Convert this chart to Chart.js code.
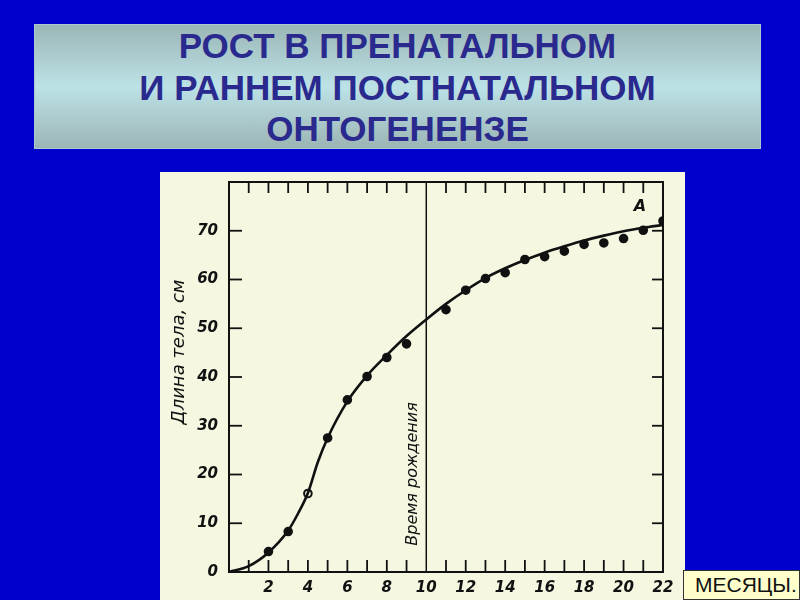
<!DOCTYPE html>
<html>
<head>
<meta charset="utf-8">
<script src="https://cdn.jsdelivr.net/npm/chart.js@4/dist/chart.umd.min.js"></script>
<style>
  html, body { margin:0; padding:0; }
  body { width:800px; height:600px; background:#0000cc; position:relative; overflow:hidden; }
  #title {
    position:absolute; left:34px; top:24px; width:727px; height:125px;
    background:linear-gradient(to bottom, #9bb6b6 0%, #bce2e7 50%, #9cb5b5 100%);
    box-sizing:border-box; border:1px solid #aac8d0;
    font-family:"Liberation Sans", Arial, sans-serif; font-weight:bold; font-size:35px;
    color:#2a2a8e; text-align:center; line-height:41.5px; padding-top:0px;
  }
  #panel { position:absolute; left:160px; top:172px; width:525px; height:428px; background:#f5f7e1; }
  #months {
    position:absolute; left:683px; top:570px; width:117px; height:30px; box-sizing:border-box;
    background:#ffffcc; border:1px solid #333; font-family:"Liberation Sans", Arial, sans-serif;
    font-size:21px; color:#111; line-height:28px; padding-left:11px;
  }
</style>
</head>
<body>
<div id="title">РОСТ В ПРЕНАТАЛЬНОМ<br>И РАННЕМ ПОСТНАТАЛЬНОМ<br>ОНТОГЕНЕНЗЕ</div>
<div id="panel"><canvas id="c" width="525" height="428"></canvas></div>
<div id="months">МЕСЯЦЫ.</div>
<script>
// Fitted growth curve (months, body length cm)
const curveMonths = [0,1,2,3,3.5,4,4.5,5,6,7,8,9,10,11,12,13,14,15,16,17,18,19,20,21,22];
const curveLength = [0,1.2,4.0,8.5,12.0,16.2,22.5,27.5,35.0,40.3,44.5,48.4,51.8,55.0,57.8,60.3,62.3,64.0,65.5,66.8,68.0,69.0,69.9,70.6,71.2];
// Measured points
const pointMonths = [2,3,4,5,6,7,8,9,11,12,13,14,15,16,17,18,19,20,21,22];
const pointLength = [4.2,8.3,16.1,27.5,35.3,40.1,44.0,46.8,53.8,57.8,60.2,61.4,64.1,64.7,65.8,67.2,67.5,68.4,70.1,72.0];
// Axis ticks
const xTickLabels = [2,4,6,8,10,12,14,16,18,20,22];
const yTickLabels = [0,10,20,30,40,50,60,70];
const birthMonth = 10;
const yTitle = 'Длина тела, см';
const birthLabel = 'Время рождения';
const curveLabel = 'А';

const ink = '#111';
const tickFont = {family:'"DejaVu Sans", sans-serif', size:15, style:'italic', weight:'bold'};

const framePlugin = {
  id:'frame',
  afterDraw(chart){
    const ctx = chart.ctx, a = chart.chartArea;
    const xs = chart.scales.x, ys = chart.scales.y;
    ctx.save();
    ctx.strokeStyle = ink;
    ctx.lineWidth = 2;
    ctx.strokeRect(a.left, a.top, a.right - a.left, a.bottom - a.top);
    // birth line
    ctx.lineWidth = 1.5;
    const bx = xs.getPixelForValue(birthMonth);
    ctx.beginPath(); ctx.moveTo(bx, a.top); ctx.lineTo(bx, a.bottom); ctx.stroke();
    // x ticks
    ctx.lineWidth = 1.8;
    for (let m = 1; m < 22; m++) {
      if (m === birthMonth) continue;
      const px = xs.getPixelForValue(m);
      ctx.beginPath(); ctx.moveTo(px, a.bottom); ctx.lineTo(px, a.bottom - 12); ctx.stroke();
      ctx.beginPath(); ctx.moveTo(px, a.top); ctx.lineTo(px, a.top + 11); ctx.stroke();
    }
    // y ticks
    yTickLabels.forEach(v => {
      if (v === 0) return;
      const py = ys.getPixelForValue(v);
      ctx.beginPath(); ctx.moveTo(a.left, py); ctx.lineTo(a.left + 13, py); ctx.stroke();
      ctx.beginPath(); ctx.moveTo(a.right, py); ctx.lineTo(a.right - 11, py); ctx.stroke();
    });
    // texts
    ctx.fillStyle = ink;
    ctx.textAlign = 'center'; ctx.textBaseline = 'middle';
    ctx.font = 'italic 18px "DejaVu Sans", sans-serif';
    ctx.save(); ctx.translate(19, 180); ctx.rotate(-Math.PI/2); ctx.fillText(yTitle, 0, 0); ctx.restore();
    ctx.font = 'italic 16px "DejaVu Sans", sans-serif';
    ctx.save(); ctx.translate(bx - 13, 302); ctx.rotate(-Math.PI/2); ctx.fillText(birthLabel, 0, 0); ctx.restore();
    ctx.font = 'italic bold 16px "DejaVu Sans", sans-serif';
    ctx.fillText(curveLabel, 480, 35);
    ctx.restore();
  }
};

new Chart(document.getElementById('c'), {
  type:'scatter',
  data:{
    datasets:[
      {
        type:'line',
        data: curveMonths.map((m,i) => ({x:m, y:curveLength[i]})),
        borderColor: ink, borderWidth: 2.6, pointRadius: 0,
        cubicInterpolationMode:'monotone', fill:false
      },
      {
        data: pointMonths.map((m,i) => ({x:m, y:pointLength[i]})),
        backgroundColor: pointMonths.map(m => m === 4 ? '#f5f7e1' : ink),
        borderColor: ink, borderWidth: 2, pointRadius: 3.8, showLine:false
      }
    ]
  },
  options:{
    responsive:false, animation:false,
    layout:{padding:{left:0, top:10, right:22, bottom:0}},
    plugins:{legend:{display:false}, tooltip:{enabled:false}},
    scales:{
      x:{
        type:'linear', min:0, max:22,
        grid:{display:false, drawTicks:false}, border:{display:false},
        afterBuildTicks: s => { s.ticks = xTickLabels.map(v => ({value:v})); },
        ticks:{ color:ink, font:tickFont, padding:7, maxRotation:0, autoSkip:false },
        afterFit: s => { s.height = 28; s.paddingLeft = 0; s.paddingRight = 0; }
      },
      y:{
        type:'linear', min:0, max:80,
        grid:{display:false, drawTicks:false}, border:{display:false},
        afterBuildTicks: s => { s.ticks = yTickLabels.map(v => ({value:v})); },
        ticks:{ color:ink, font:tickFont, padding:11, autoSkip:false },
        afterFit: s => { s.width = 69; s.paddingTop = 0; s.paddingBottom = 0; }
      }
    }
  },
  plugins:[framePlugin]
});
</script>
</body>
</html>
